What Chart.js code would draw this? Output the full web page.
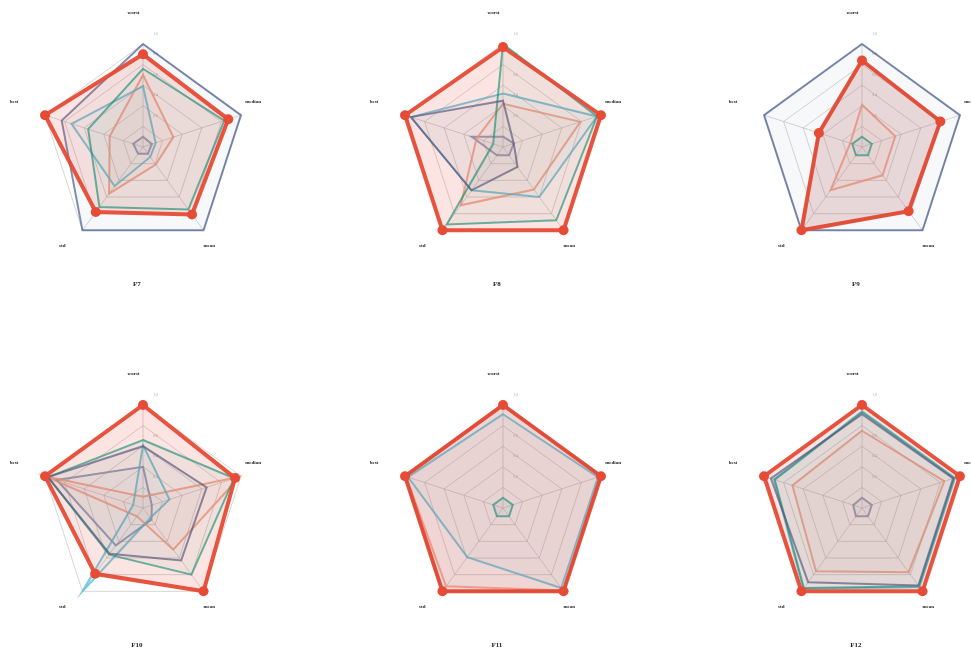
<!DOCTYPE html>
<html>
<head>
<meta charset="utf-8">
<script src="https://cdn.jsdelivr.net/npm/chart.js@4.4.1/dist/chart.umd.min.js"></script>
<style>
  html, body { margin: 0; padding: 0; background: #fff; }
  body { width: 971px; height: 650px; overflow: hidden; position: relative; }
  .cell { position: absolute; width: 300px; height: 300px; }
  .cell canvas { display: block; }
</style>
</head>
<body>
<div id="grid"></div>
<script>
// Radar axes, clockwise from the top
const axisLabels = ['worst', 'median', 'mean', 'std', 'best'];
// Panel titles, row by row
const panelTitles = ['F7', 'F8', 'F9', 'F10', 'F11', 'F12'];
// Radial tick values
const tickValues = [0.2, 0.4, 0.6, 0.8, 1.0];

// One row per panel (F7..F12), values in axisLabels order
const red = [
  [0.90, 0.87, 0.81, 0.78, 1.00],
  [0.97, 1.00, 1.00, 1.00, 1.00],
  [0.84, 0.80, 0.77, 1.00, 0.44],
  [1.00, 0.94, 1.00, 0.79, 1.00],
  [1.00, 1.00, 1.00, 1.00, 1.00],
  [1.00, 1.00, 1.00, 1.00, 1.00]
];
const navy = [
  [1.00, 1.00, 1.00, 1.00, 0.83],
  [0.45, 0.11, 0.24, 0.52, 0.94],
  [1.00, 1.00, 1.00, 1.00, 1.00],
  [0.60, 0.65, 0.63, 0.55, 0.97],
  [1.00, 1.00, 1.00, 1.00, 1.00],
  [0.91, 0.93, 0.93, 0.89, 0.93]
];
const teal = [
  [0.76, 0.83, 0.75, 0.72, 0.56],
  [1.00, 0.96, 0.88, 0.93, 0.10],
  [0.10, 0.10, 0.10, 0.10, 0.10],
  [0.66, 0.93, 0.80, 0.56, 0.97],
  [0.10, 0.10, 0.10, 0.10, 0.10],
  [0.93, 0.94, 0.94, 0.96, 0.89]
];
const sky = [
  [0.59, 0.13, 0.12, 0.47, 0.73],
  [0.52, 0.96, 0.60, 0.52, 0.94],
  [0.84, 0.80, 0.77, 1.00, 0.44],
  [0.61, 0.27, 0.12, 1.00, 0.10],
  [0.91, 0.97, 0.96, 0.59, 0.97],
  [0.94, 0.95, 0.95, 0.97, 0.90]
];
const salmon = [
  [0.70, 0.31, 0.21, 0.56, 0.34],
  [0.42, 0.79, 0.51, 0.70, 0.27],
  [0.41, 0.34, 0.34, 0.52, 0.12],
  [0.11, 0.99, 0.50, 0.10, 1.00],
  [0.99, 0.99, 0.99, 0.94, 0.99],
  [0.75, 0.84, 0.77, 0.76, 0.71]
];
const lavender = [
  [0.10, 0.09, 0.08, 0.08, 0.10],
  [0.10, 0.11, 0.10, 0.10, 0.32],
  [0.84, 0.80, 0.77, 1.00, 0.44],
  [0.40, 0.09, 0.14, 0.45, 0.88],
  [1.00, 1.00, 1.00, 1.00, 1.00],
  [0.10, 0.10, 0.10, 0.10, 0.09]
];

// Series styling, top-most first
const seriesStyles = [
  { rows: red,      rgb: '230,75,53',   line: 0.95, fill: 0.15, width: 4, point: 5 },
  { rows: navy,     rgb: '60,84,136',   line: 0.66, fill: 0.04, width: 2, point: 0 },
  { rows: teal,     rgb: '0,160,135',   line: 0.68, fill: 0.05, width: 2, point: 0 },
  { rows: sky,      rgb: '77,187,213',  line: 0.75, fill: 0.05, width: 2, point: 0 },
  { rows: salmon,   rgb: '243,155,127', line: 0.80, fill: 0.06, width: 2, point: 0 },
  { rows: lavender, rgb: '132,145,180', line: 0.85, fill: 0.05, width: 2, point: 0 }
];

// Panel centres on the page and radius of the 1.0 ring
const centersX = [143, 503, 862];
const centersY = [147, 508];
const RADIUS = 103;
const HALF = 150;

// Text placement around each radar, in units of the radius
const labelSpots = [
  { dx: -0.092, dy: -1.306, align: 'center' },
  { dx:  0.992, dy: -0.438, align: 'left' },
  { dx:  0.643, dy:  0.960, align: 'center' },
  { dx: -0.784, dy:  0.960, align: 'center' },
  { dx: -1.253, dy: -0.438, align: 'center' }
];
const titleSpot = { dx: -0.06, dy: 1.332 };
const tickSpot = { dx: 0.122, dy: -0.100 };

const SERIF = '"Liberation Serif", "DejaVu Serif", serif';

const panelText = {
  id: 'panelText',
  beforeDatasetsDraw(chart) {
    const s = chart.scales.r;
    const ctx = chart.ctx;
    ctx.save();
    ctx.fillStyle = 'rgba(150,150,150,0.8)';
    ctx.font = '3.8px ' + SERIF;
    ctx.textAlign = 'center';
    ctx.textBaseline = 'middle';
    tickValues.forEach(v => {
      const d = s.getDistanceFromCenterForValue(v);
      ctx.fillText(v.toFixed(1), s.xCenter + tickSpot.dx * s.drawingArea,
                   s.yCenter - d + tickSpot.dy * s.drawingArea);
    });
    ctx.restore();
  },
  afterDraw(chart) {
    const s = chart.scales.r;
    const R = s.drawingArea;
    const ctx = chart.ctx;
    ctx.save();
    ctx.fillStyle = '#222';
    ctx.textBaseline = 'middle';
    ctx.font = 'bold 5px ' + SERIF;
    chart.data.labels.forEach((lab, i) => {
      const p = labelSpots[i];
      ctx.textAlign = p.align;
      ctx.fillText(lab, s.xCenter + p.dx * R, s.yCenter + p.dy * R);
    });
    ctx.font = 'bold 7px ' + SERIF;
    ctx.textAlign = 'center';
    ctx.fillText(chart.options.plugins.panelText.title,
                 s.xCenter + titleSpot.dx * R, s.yCenter + titleSpot.dy * R);
    ctx.restore();
  }
};

const grid = document.getElementById('grid');
panelTitles.forEach((title, k) => {
  const col = k % 3, row = Math.floor(k / 3);
  const cell = document.createElement('div');
  cell.className = 'cell';
  cell.style.left = (centersX[col] - HALF) + 'px';
  cell.style.top = (centersY[row] - HALF) + 'px';
  const cv = document.createElement('canvas');
  cv.width = 2 * HALF;
  cv.height = 2 * HALF;
  cell.appendChild(cv);
  grid.appendChild(cell);

  const datasets = seriesStyles.map(st => ({
    data: st.rows[k],
    borderColor: 'rgba(' + st.rgb + ',' + st.line + ')',
    backgroundColor: 'rgba(' + st.rgb + ',' + st.fill + ')',
    borderWidth: st.width,
    fill: true,
    tension: 0,
    pointRadius: st.point,
    pointHoverRadius: st.point,
    pointBackgroundColor: 'rgb(' + st.rgb + ')',
    pointBorderColor: 'rgb(' + st.rgb + ')',
    pointBorderWidth: 0
  }));

  new Chart(cv, {
    type: 'radar',
    data: { labels: axisLabels, datasets },
    options: {
      responsive: false,
      animation: false,
      devicePixelRatio: 1,
      layout: { padding: HALF - RADIUS },
      plugins: {
        legend: { display: false },
        tooltip: { enabled: false },
        panelText: { title }
      },
      scales: {
        r: {
          min: 0,
          max: 1,
          ticks: { display: false, stepSize: 0.2 },
          pointLabels: { display: false },
          grid: { color: 'rgba(180,180,180,0.55)', lineWidth: 1 },
          angleLines: { color: 'rgba(180,180,180,0.55)', lineWidth: 1 }
        }
      }
    },
    plugins: [panelText]
  });
});
</script>
</body>
</html>
